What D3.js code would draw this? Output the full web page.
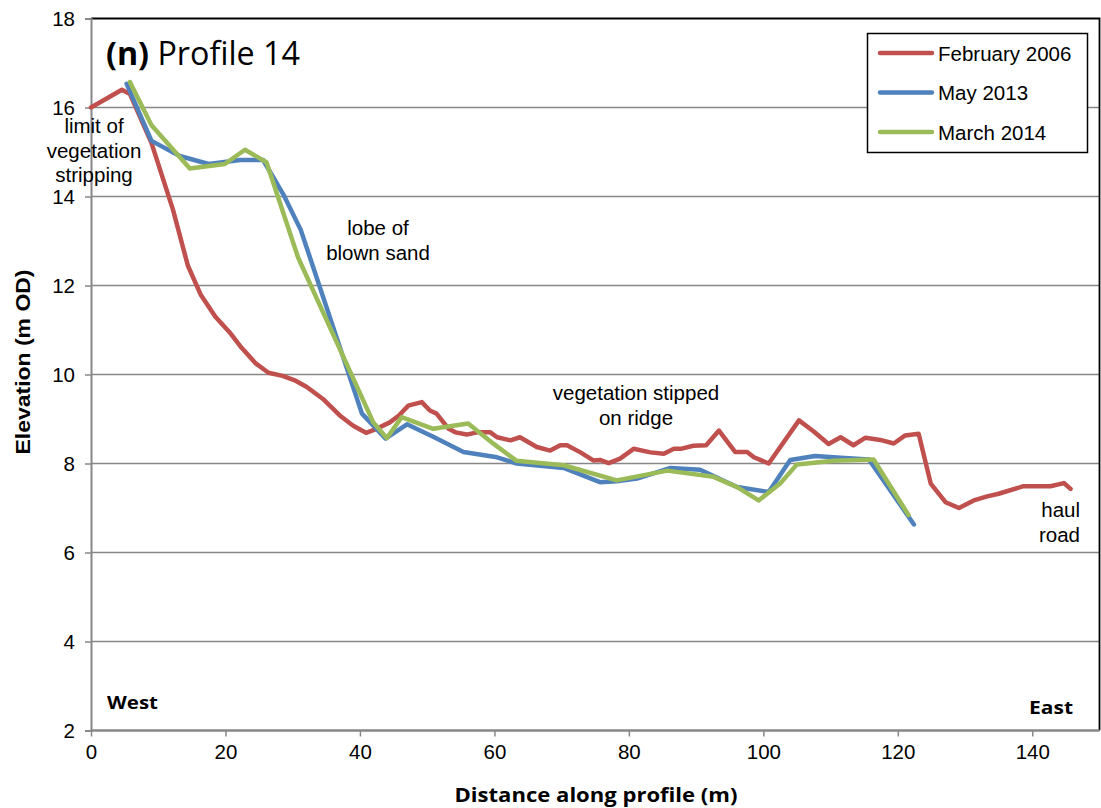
<!DOCTYPE html>
<html>
<head>
<meta charset="utf-8">
<script src="https://cdn.jsdelivr.net/npm/d3@7"></script>
<style>
  html, body { margin: 0; padding: 0; background: #fff; }
  svg { display: block; }
</style>
</head>
<body>
<svg id="chart" width="1101" height="808"></svg>
<script>
// ---- Data ----
const seriesNames = ["February 2006", "May 2013", "March 2014"];
const seriesColors = ["#C0504D", "#4F81BD", "#9BBB59"];

const feb2006X = [0, 4.6, 5.8, 9.0, 12.2, 14.4, 16.3, 18.5, 20.6, 22.4, 24.5, 26.4, 28.5, 30.3, 32.1, 34.5, 37.0, 39.0, 40.9, 42.5, 44.5, 45.8, 47.2, 49.2, 50.4, 51.4, 53.2, 54.2, 55.9, 57.4, 59.4, 60.4, 62.4, 63.8, 66.3, 68.3, 69.8, 70.8, 72.8, 74.7, 75.7, 77.0, 78.7, 80.7, 83.2, 85.2, 86.7, 87.7, 89.6, 91.5, 93.4, 95.8, 97.6, 98.6, 100.8, 105.3, 107.5, 109.7, 111.5, 113.4, 115.2, 117.4, 119.4, 121.1, 123.1, 124.9, 127.1, 129.1, 131.3, 133.3, 135.0, 138.7, 142.7, 144.7, 145.7];
const feb2006Y = [16.0, 16.4, 16.3, 15.2, 13.7, 12.45, 11.8, 11.3, 10.95, 10.6, 10.25, 10.04, 9.97, 9.87, 9.72, 9.45, 9.08, 8.85, 8.69, 8.78, 8.93, 9.08, 9.30, 9.38, 9.19, 9.12, 8.78, 8.70, 8.65, 8.70, 8.70, 8.59, 8.52, 8.59, 8.37, 8.29, 8.41, 8.41, 8.25, 8.07, 8.08, 8.01, 8.11, 8.33, 8.25, 8.22, 8.33, 8.33, 8.40, 8.41, 8.74, 8.26, 8.26, 8.14, 8.0, 8.97, 8.72, 8.44, 8.59, 8.41, 8.58, 8.53, 8.45, 8.63, 8.67, 7.55, 7.13, 7.0, 7.17, 7.26, 7.32, 7.49, 7.49, 7.56, 7.43];

const may2013X = [5.3, 9.0, 13.2, 17.5, 22.2, 25.6, 28.6, 31.2, 40.3, 43.8, 47.0, 50.9, 55.4, 60.4, 63.3, 70.3, 75.7, 78.2, 81.2, 86.2, 90.6, 96.1, 100.8, 104.0, 107.7, 111.5, 115.7, 122.4];
const may2013Y = [16.53, 15.25, 14.91, 14.73, 14.82, 14.82, 14.05, 13.25, 9.12, 8.56, 8.88, 8.6, 8.26, 8.14, 8.0, 7.9, 7.58, 7.6, 7.66, 7.9, 7.86, 7.47, 7.36, 8.08, 8.17, 8.13, 8.09, 6.63];

const mar2014X = [5.8, 9.0, 14.7, 19.9, 22.9, 26.1, 30.8, 42.0, 44.0, 46.2, 50.9, 56.1, 59.9, 63.3, 70.3, 78.2, 85.7, 92.6, 96.1, 99.3, 102.5, 105.0, 110.5, 116.4, 121.6];
const mar2014Y = [16.57, 15.6, 14.63, 14.73, 15.05, 14.77, 12.63, 8.92, 8.57, 9.04, 8.78, 8.9, 8.44, 8.06, 7.96, 7.62, 7.84, 7.7, 7.47, 7.17, 7.55, 7.98, 8.06, 8.09, 6.84];

const xTicks = [0, 20, 40, 60, 80, 100, 120, 140];
const yTicks = [2, 4, 6, 8, 10, 12, 14, 16, 18];

const seriesData = [
  d3.zip(feb2006X, feb2006Y),
  d3.zip(may2013X, may2013Y),
  d3.zip(mar2014X, mar2014Y)
];

// ---- Layout ----
const ARIAL = "'Liberation Sans', Arial, sans-serif";
const CALIBRI = "'Open Sans', 'Noto Sans', sans-serif";
const svg = d3.select("#chart");
const plotL = 91, plotR = 1099.5, plotT = 18.5, plotB = 730.5;
const x = d3.scaleLinear().domain([0, 150]).range([plotL, plotR]);
const y = d3.scaleLinear().domain([2, 18]).range([plotB, plotT]);

// gridlines
svg.append("g").selectAll("line")
  .data(yTicks.filter(v => v > 2 && v < 18))
  .join("line")
  .attr("x1", plotL).attr("x2", plotR)
  .attr("y1", d => y(d)).attr("y2", d => y(d))
  .attr("stroke", "#878787").attr("stroke-width", 1.5);

// plot border top/right
svg.append("path")
  .attr("d", `M${plotL},${plotT}H${plotR}V${plotB}`)
  .attr("fill", "none").attr("stroke", "#000").attr("stroke-width", 1.8);

// y axis
const yAxis = d3.axisLeft(y).tickValues(yTicks).tickSize(6).tickPadding(10).tickFormat(d3.format("d"));
const gy = svg.append("g").attr("transform", `translate(${plotL},0)`).call(yAxis);
gy.select(".domain").attr("stroke", "#878787").attr("stroke-width", 2);
gy.selectAll(".tick line").attr("stroke", "#878787").attr("stroke-width", 1.5);
gy.selectAll(".tick text").style("font-size", "20.5px").style("font-family", ARIAL).attr("fill", "#000");

// x axis
const xAxis = d3.axisBottom(x).tickValues(xTicks).tickSize(6).tickPadding(8).tickFormat(d3.format("d"));
const gx = svg.append("g").attr("transform", `translate(0,${plotB})`).call(xAxis);
gx.select(".domain").attr("stroke", "#878787").attr("stroke-width", 2.5).attr("d", `M${plotL},0H${plotR}`);
gx.selectAll(".tick line").attr("stroke", "#878787").attr("stroke-width", 1.5);
gx.selectAll(".tick text").style("font-size", "20.5px").style("font-family", ARIAL).attr("fill", "#000");

// lines
const line = d3.line().x(d => x(d[0])).y(d => y(d[1]));
svg.append("g").selectAll("path")
  .data(seriesData)
  .join("path")
  .attr("d", line)
  .attr("fill", "none")
  .attr("stroke", (d, i) => seriesColors[i])
  .attr("stroke-width", 4.5)
  .attr("stroke-linejoin", "round")
  .attr("stroke-linecap", "round");

// title (fit to reference width)
const title = svg.append("text").attr("x", 106).attr("y", 65)
  .style("font-family", CALIBRI).style("font-size", "28px");
title.append("tspan").style("font-weight", "bold").text("(n)");
title.append("tspan").text(" Profile 14");
const tw = title.node().getComputedTextLength();
title.style("font-size", (28 * 194 / tw).toFixed(2) + "px");

// axis titles
svg.append("text")
  .attr("x", 596).attr("y", 802)
  .attr("text-anchor", "middle")
  .style("font-family", CALIBRI).style("font-weight", "bold").style("font-size", "20px")
  .attr("textLength", 283).attr("lengthAdjust", "spacingAndGlyphs")
  .text("Distance along profile (m)");

svg.append("text")
  .attr("transform", "translate(30,362) rotate(-90)")
  .attr("text-anchor", "middle")
  .style("font-family", ARIAL).style("font-weight", "bold").style("font-size", "20.5px")
  .attr("textLength", 185).attr("lengthAdjust", "spacingAndGlyphs")
  .text("Elevation (m OD)");

// annotations
const notes = [
  { lines: ["limit of", "vegetation", "stripping"], x: 94, y: 133, anchor: "middle" },
  { lines: ["lobe of", "blown sand"], x: 378, y: 235, anchor: "middle" },
  { lines: ["vegetation stipped", "on ridge"], x: 636, y: 400, anchor: "middle" },
  { lines: ["haul", "road"], x: 1080, y: 517, anchor: "end" }
];
notes.forEach(n => {
  const t = svg.append("text").attr("text-anchor", n.anchor)
    .style("font-family", ARIAL).style("font-size", "20.5px");
  n.lines.forEach((l, i) => {
    t.append("tspan").attr("x", n.x).attr("y", n.y + i * 24.5).text(l);
  });
});

svg.append("text").attr("x", 107).attr("y", 709)
  .style("font-family", CALIBRI).style("font-weight", "bold").style("font-size", "18px")
  .attr("textLength", 51).attr("lengthAdjust", "spacingAndGlyphs")
  .text("West");
svg.append("text").attr("x", 1029).attr("y", 714)
  .style("font-family", CALIBRI).style("font-weight", "bold").style("font-size", "18px")
  .attr("textLength", 44).attr("lengthAdjust", "spacingAndGlyphs")
  .text("East");

// legend
const lg = svg.append("g");
lg.append("rect").attr("x", 867.5).attr("y", 33.5).attr("width", 220).attr("height", 119)
  .attr("fill", "#fff").attr("stroke", "#000").attr("stroke-width", 1.5);
seriesNames.forEach((name, i) => {
  const yy = 53 + i * 39.5;
  lg.append("line").attr("x1", 880).attr("x2", 932).attr("y1", yy).attr("y2", yy)
    .attr("stroke", seriesColors[i]).attr("stroke-width", 4.5).attr("stroke-linecap", "round");
  lg.append("text").attr("x", 938).attr("y", yy + 7.5)
    .style("font-family", ARIAL).style("font-size", "20.5px").text(name);
});
</script>
</body>
</html>
